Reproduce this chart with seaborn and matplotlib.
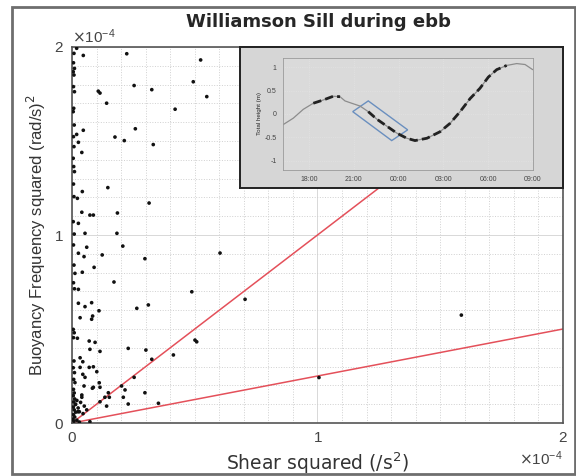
import numpy as np
import pandas as pd
import matplotlib
matplotlib.use('Agg')
import matplotlib.pyplot as plt
import seaborn as sns
from matplotlib.patches import Rectangle, Polygon
from matplotlib.ticker import ScalarFormatter, MultipleLocator

# ==================== data (units of 1e-4) ====================
shear_sq = [
    0.019, 0.046, 0.223, 0.524, 0.494, 0.549, 0.253, 0.325, 0.107, 0.114,
    0.141, 0.420, 0.258, 0.046, 0.175, 0.213, 0.331, 0.026, 0.019, 0.040,
    0.146, 0.042, 0.022, 0.314, 0.040, 0.073, 0.087, 0.185, 0.026, 0.053,
    0.183, 0.207, 0.060, 0.026, 0.049, 0.123, 0.297, 0.603, 0.090, 0.042,
    0.171, 0.026, 0.488, 0.026, 0.080, 0.053, 0.110, 0.311, 0.264, 0.705,
    0.033, 0.080, 0.084, 0.022, 0.070, 0.094, 0.501, 0.508, 0.073, 0.114,
    0.229, 0.301, 0.413, 0.325, 0.033, 0.044, 0.070, 0.087, 0.101, 0.033,
    0.044, 0.053, 0.253, 0.111, 0.114, 0.087, 0.083, 0.049, 0.148, 0.202,
    0.216, 0.297, 0.134, 0.152, 0.209, 0.114, 0.229, 0.352, 0.141, 0.040,
    0.040, 0.024, 0.073, 1.586, 1.006,
    # points sitting on the axis
    0.008, 0.006, 0.010, 0.005, 0.008, 0.006, 0.010, 0.007, 0.005, 0.009,
    0.006, 0.008, 0.005, 0.007, 0.010, 0.006, 0.008, 0.005, 0.009, 0.006,
    0.008, 0.012, 0.006, 0.010, 0.005, 0.009, 0.006, 0.008, 0.005, 0.010,
    0.007, 0.012, 0.006, 0.009, 0.005, 0.011, 0.007, 0.013, 0.005, 0.009,
    0.015, 0.006, 0.011, 0.004, 0.008, 0.020, 0.030,
    # cluster near the origin
    0.020, 0.035, 0.050, 0.060, 0.045, 0.030, 0.025, 0.015,
]
buoy_sq = [
    1.993, 1.955, 1.964, 1.931, 1.815, 1.736, 1.795, 1.773, 1.765, 1.755,
    1.701, 1.669, 1.565, 1.557, 1.521, 1.502, 1.481, 1.493, 1.535, 1.439,
    1.252, 1.231, 1.195, 1.170, 1.121, 1.106, 1.106, 1.117, 1.062, 1.009,
    1.009, 0.941, 0.935, 0.903, 0.885, 0.894, 0.874, 0.904, 0.828, 0.802,
    0.750, 0.711, 0.698, 0.637, 0.640, 0.619, 0.597, 0.628, 0.610, 0.658,
    0.560, 0.552, 0.569, 0.451, 0.436, 0.429, 0.441, 0.432, 0.392, 0.381,
    0.397, 0.388, 0.362, 0.339, 0.347, 0.326, 0.296, 0.299, 0.273, 0.296,
    0.259, 0.243, 0.243, 0.214, 0.190, 0.190, 0.185, 0.197, 0.161, 0.197,
    0.176, 0.161, 0.137, 0.137, 0.137, 0.113, 0.101, 0.105, 0.090, 0.149,
    0.137, 0.060, 0.007, 0.574, 0.242,
    1.966, 1.916, 1.886, 1.868, 1.851, 1.789, 1.762, 1.674, 1.656, 1.585,
    1.523, 1.470, 1.408, 1.364, 1.337, 1.271, 1.204, 1.071, 1.005, 0.947,
    0.840, 0.796, 0.746, 0.714, 0.498, 0.480, 0.454, 0.330, 0.294, 0.268,
    0.232, 0.215, 0.179, 0.160, 0.145, 0.128, 0.112, 0.098, 0.085, 0.070,
    0.058, 0.045, 0.032, 0.020, 0.010, 0.015, 0.005,
    0.120, 0.110, 0.090, 0.070, 0.050, 0.060, 0.080, 0.100,
]
ri_slopes = [1.0, 0.25]   # Richardson number reference lines

# tidal height inset (hours since 00:00 of first day, metres)
tide_hours = [16.26, 16.95, 17.62, 18.29, 18.96, 19.63, 20.08, 20.41, 20.86,
              21.42, 21.97, 22.54, 23.21, 23.88, 24.55, 25.10, 25.90, 26.78,
              27.45, 28.12, 28.79, 29.45, 30.01, 30.57, 31.24, 31.91, 32.47,
              32.98]
tide_height = [-0.23, -0.09, 0.10, 0.23, 0.30, 0.38, 0.37, 0.28, 0.23,
               0.17, 0.05, -0.11, -0.26, -0.41, -0.52, -0.57, -0.52, -0.38,
               -0.20, 0.05, 0.33, 0.55, 0.79, 0.95, 1.04, 1.08, 1.06, 0.95]
obs_ranges = [(18.5, 19.8), (21.9, 31.3)]
box_hours = [21.97, 20.93, 23.54, 24.61]
box_height = [0.28, 0.05, -0.57, -0.34]
inset_ticks = [18, 21, 24, 27, 30, 33]
inset_labels = ['18:00', '21:00', '00:00', '03:00', '06:00', '09:00']

SCALE = 1e-4

sns.set_style('white')
plt.rcParams['font.family'] = ['Liberation Sans', 'DejaVu Sans']

fig = plt.figure(figsize=(5.76, 4.76), dpi=100)

# ==================== main scatter ====================
ax = fig.add_axes([0.125, 0.1113, 0.8524, 0.79])
df = pd.DataFrame({'shear': np.array(shear_sq) * SCALE,
                   'n2': np.array(buoy_sq) * SCALE})
sns.scatterplot(data=df, x='shear', y='n2', ax=ax, color='#111111',
                s=7, edgecolor='none', zorder=3)

xs = np.array([0, 2]) * SCALE
for slope in ri_slopes:
    ax.plot(xs, slope * xs, color='#e4505a', lw=1.1, zorder=2)

ax.set_xlim(0, 2 * SCALE)
ax.set_ylim(0, 2 * SCALE)
ax.xaxis.set_major_locator(MultipleLocator(1 * SCALE))
ax.yaxis.set_major_locator(MultipleLocator(1 * SCALE))
ax.xaxis.set_minor_locator(MultipleLocator(0.1 * SCALE))
ax.yaxis.set_minor_locator(MultipleLocator(0.1 * SCALE))
for axis in (ax.xaxis, ax.yaxis):
    fmt = ScalarFormatter(useMathText=True)
    fmt.set_powerlimits((0, 0))
    axis.set_major_formatter(fmt)
ax.grid(which='major', color='#d8d8d8', lw=0.7, ls='-')
ax.grid(which='minor', color='#d0d0d0', lw=0.7, ls=':')
ax.tick_params(which='major', direction='in', length=4, labelsize=11,
               labelcolor='#444444', color='#555555', pad=6)
ax.tick_params(which='minor', length=0)
ax.xaxis.get_offset_text().set_fontsize(11)
ax.xaxis.get_offset_text().set_color('#444444')
ax.yaxis.get_offset_text().set_fontsize(11)
ax.yaxis.get_offset_text().set_color('#444444')
for sp in ax.spines.values():
    sp.set_color('#555555')
    sp.set_linewidth(1.2)

ax.set_xlabel('Shear squared (/s$^2$)', fontsize=13.5, color='#333333',
              family='DejaVu Sans')
ax.set_ylabel('Buoyancy Frequency squared (rad/s)$^2$', fontsize=12,
              color='#333333')
fig.text(0.552, 0.953, 'Williamson Sill during ebb', ha='center', va='center',
         fontsize=13, fontweight='bold', family='DejaVu Sans')

# ==================== inset: tidal height ====================
frame = fig.add_axes([0.4167, 0.605, 0.5608, 0.2962])
frame.set_facecolor('#d6d6d6')
frame.set_xticks([])
frame.set_yticks([])
for sp in frame.spines.values():
    sp.set_color('#222222')
    sp.set_linewidth(1.4)
frame.set_zorder(5)

ins = fig.add_axes([0.4913, 0.6429, 0.434, 0.2353])
ins.set_zorder(6)
ins.set_facecolor('#dadada')
tide = pd.DataFrame({'t': tide_hours, 'h': tide_height})
sns.lineplot(data=tide, x='t', y='h', ax=ins, color='#8c8c8c', lw=0.9,
             sort=False)
for t0, t1 in obs_ranges:
    seg = tide[(tide['t'] >= t0 - 0.4) & (tide['t'] <= t1 + 0.4)]
    ins.plot(seg['t'], seg['h'], color='#222222', lw=2.0, ls=(0, (3, 1.5)))
ins.add_patch(Polygon(list(zip(box_hours, box_height)), closed=True,
                      fill=False, edgecolor='#6a8fbf', lw=1.0))
ins.set_xlim(16.26, 33)
ins.set_ylim(-1.2, 1.2)
ins.set_xticks(inset_ticks)
ins.set_xticklabels(inset_labels)
ins.set_yticks([-1, -0.5, 0, 0.5, 1])
ins.set_yticklabels(['-1', '-0.5', '0', '0.5', '1'])
ins.grid(color='#e6e6e6', lw=0.5, ls=':')
ins.tick_params(labelsize=5, length=1.5, pad=3, labelcolor='#444444',
                color='#777777')
ins.set_xlabel('')
ins.set_ylabel('Total height (m)', fontsize=4.5, labelpad=2)
for sp in ins.spines.values():
    sp.set_color('#9a9a9a')
    sp.set_linewidth(0.6)

# outer border of the figure
fig.patches.append(Rectangle((0.021, 0.004), 0.977, 0.982,
                             transform=fig.transFigure, fill=False,
                             edgecolor='#6e6e6e', lw=2.0))

fig.savefig('out.png', dpi=100)
